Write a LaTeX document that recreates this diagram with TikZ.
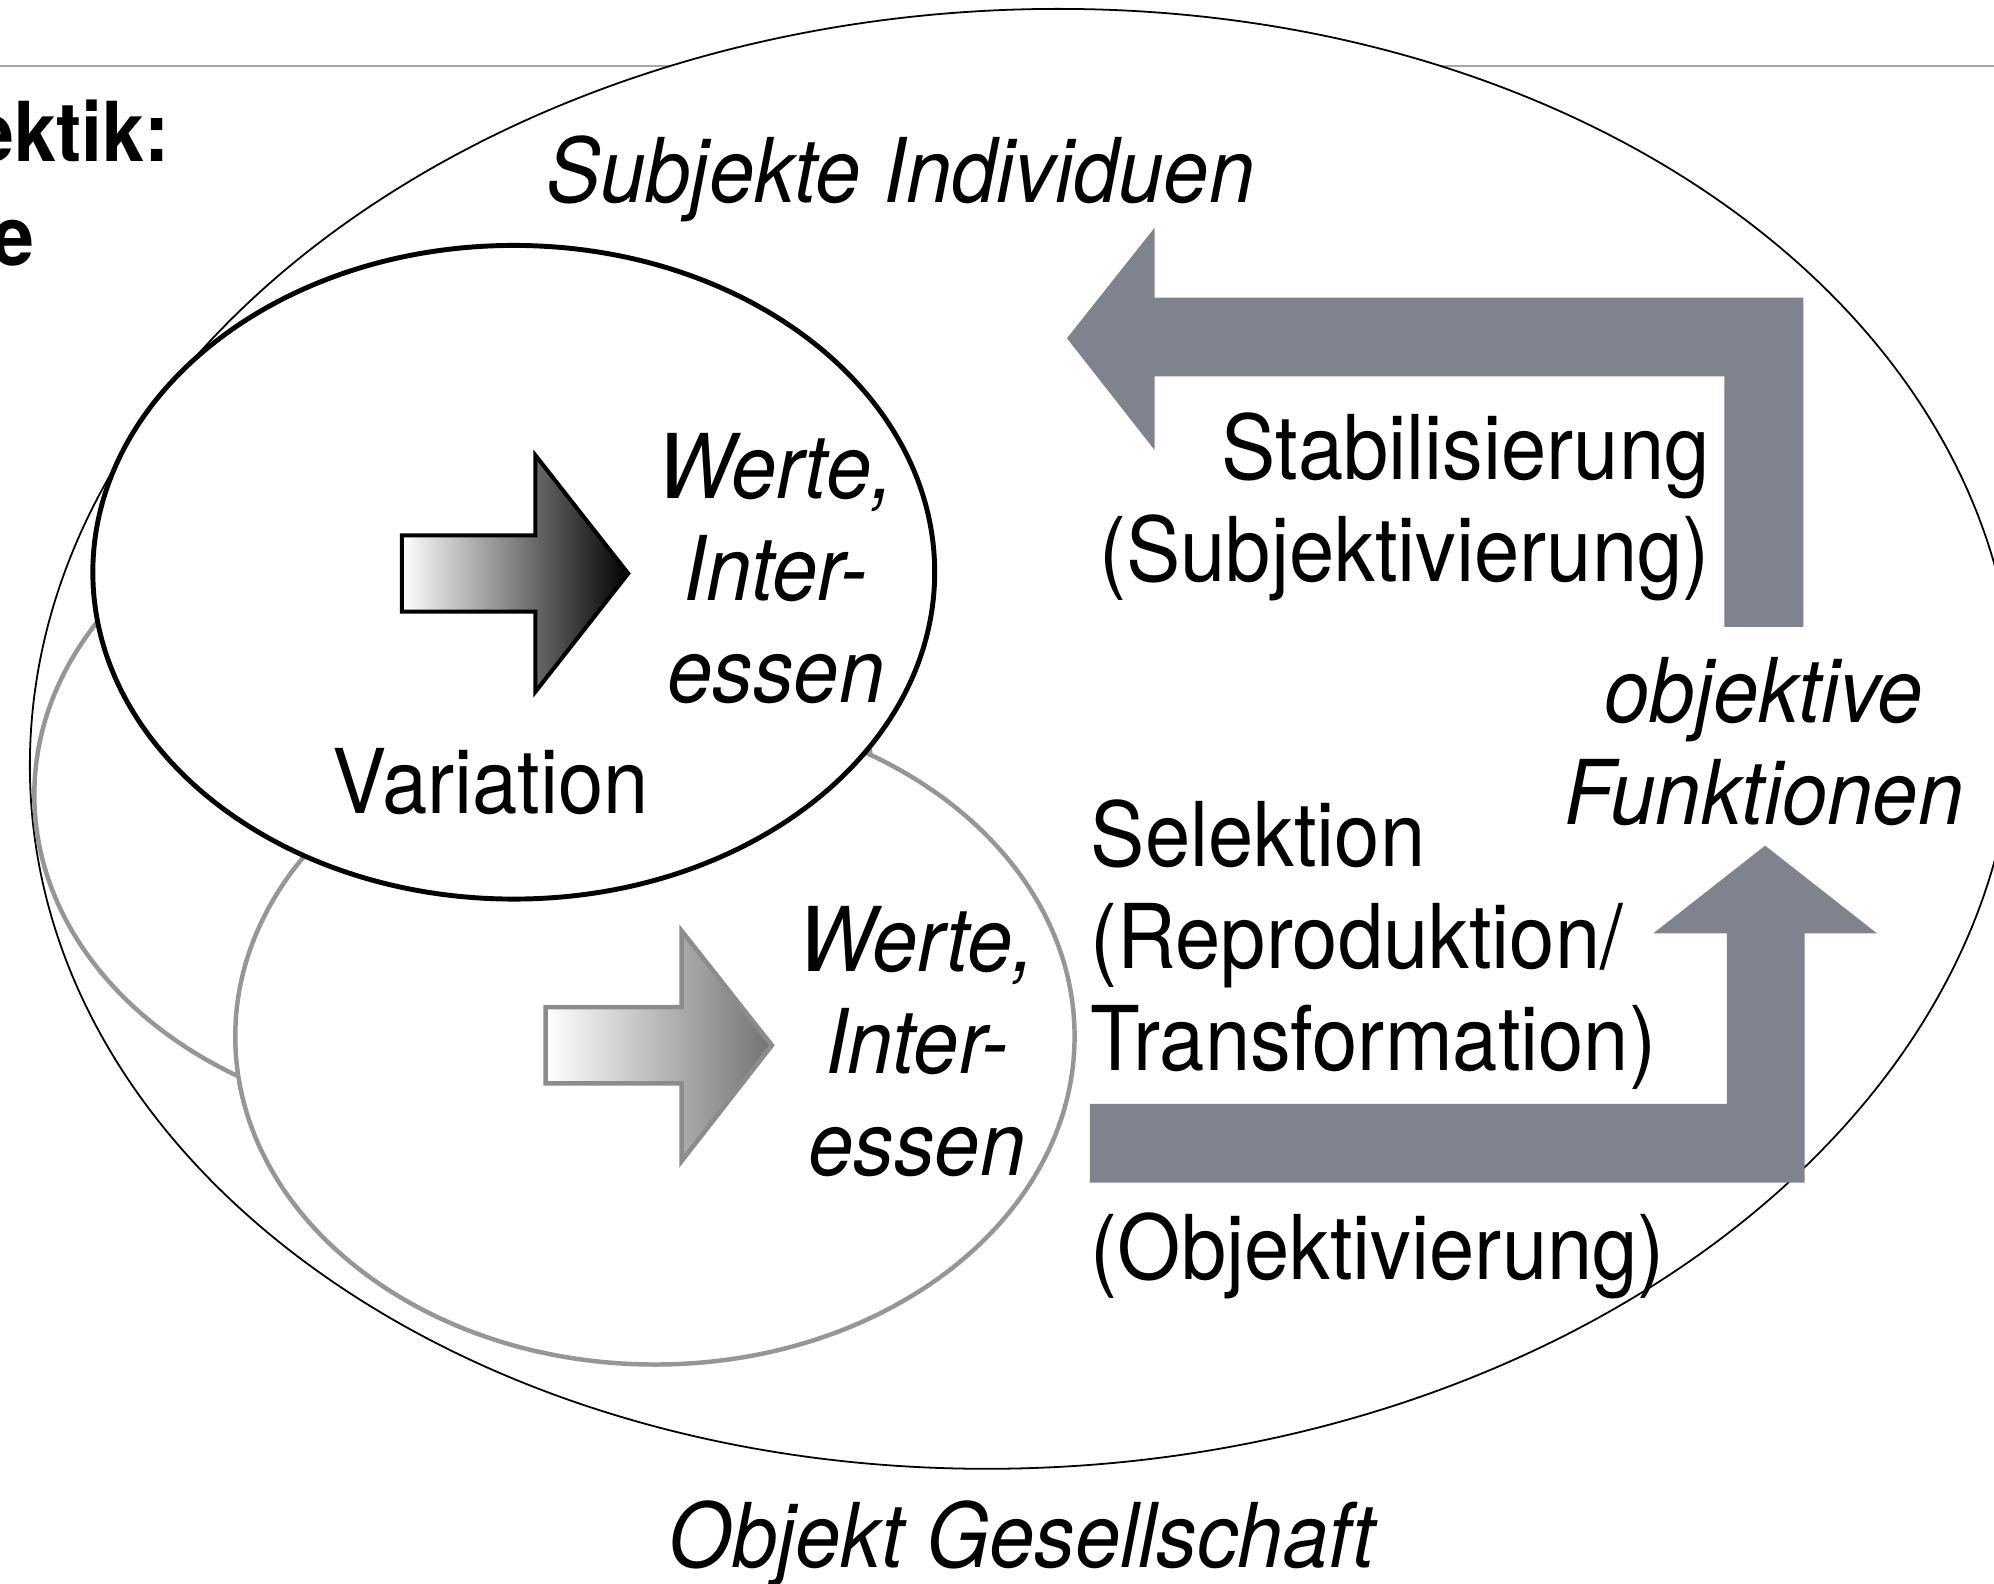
\documentclass[tikz,border=0pt]{standalone}
\usepackage{fontspec}
\setmainfont[FakeStretch=0.91]{TeX Gyre Heros}
\definecolor{slate}{RGB}{126,131,142}
\definecolor{ringgray}{RGB}{150,150,150}
\definecolor{rulegray}{RGB}{166,166,166}

\begin{document}
\begin{tikzpicture}[txt/.style={font=\fontsize{20}{22.8}\selectfont, inner sep=0pt},
                    ital/.style={font=\fontsize{20}{22.8}\selectfont\itshape, inner sep=0pt},
                    head/.style={font=\fontsize{18.5}{22.8}\selectfont\bfseries, inner sep=0pt},
                    ring/.style={draw=ringgray, line width=1pt, fill=white}]
  \useasboundingbox (0,0) rectangle (15.68,-12.45);

  % rule of the slide
  \draw[rulegray, line width=0.6pt] (0,-0.52) -- (15.68,-0.52);
  \node[head, anchor=base east] (headA) at (1.34,-1.27) {ektik:};
  \node[head, anchor=base east] (headB) at (0.275,-2.09) {e};

  % Objekt Gesellschaft
  \draw[line width=0.4pt, fill=white, shift={(8.04,-5.81)}, xslant=0.049]
    (0,0) ellipse [x radius=7.80, y radius=5.74];

  % Werte, Interessen
  \draw[ring] (3.57,-6.25) ellipse [x radius=3.30, y radius=2.58];
  \draw[ring] (5.15,-8.15) ellipse [x radius=3.30, y radius=2.58];
  \draw[line width=1.1pt, fill=white] (4.04,-4.50) ellipse [x radius=3.31, y radius=2.57];

  \draw[line width=0.9pt, left color=white, right color=black]
    (3.16,-4.21) -- (4.21,-4.21) -- (4.21,-3.58) -- (4.94,-4.51)
    -- (4.21,-5.44) -- (4.21,-4.81) -- (3.16,-4.81) -- cycle;
  \draw[line width=1pt, draw=black!45, left color=white, right color=black!55]
    (4.29,-7.92) -- (5.36,-7.92) -- (5.36,-7.32) -- (6.07,-8.22)
    -- (5.36,-9.13) -- (5.36,-8.52) -- (4.29,-8.52) -- cycle;

  % Stabilisierung / Selektion
  \fill[slate] (8.39,-2.66) -- (9.08,-1.79) -- (9.08,-2.34) -- (14.18,-2.34)
    -- (14.18,-4.93) -- (13.56,-4.93) -- (13.56,-2.96) -- (9.08,-2.96)
    -- (9.08,-3.54) -- cycle;
  \fill[slate] (8.57,-8.68) -- (13.58,-8.68) -- (13.58,-7.34) -- (13.00,-7.34)
    -- (13.88,-6.65) -- (14.76,-7.34) -- (14.19,-7.34) -- (14.19,-9.30)
    -- (8.57,-9.30) -- cycle;

  \node[ital, anchor=base] (subj) at (7.08,-1.595) {Subjekte Individuen};
  \node[ital, align=center, anchor=north] (werteA) at (6.10,-3.40) {Werte,\\Inter-\\essen};
  \node[txt, anchor=base] (var) at (3.86,-6.40) {Variation};
  \node[ital, align=center, anchor=north] (werteB) at (7.21,-7.12) {Werte,\\Inter-\\essen};
  \node[txt, align=right, anchor=north east] (stab) at (13.45,-3.24) {Stabilisierung\\(Subjektivierung)};
  \node[ital, align=center, anchor=north] (funk) at (13.87,-5.16) {objektive\\Funktionen};
  \node[txt, align=left, anchor=north west] (sel) at (8.57,-6.28) {Selektion\\(Reproduktion/\\Transformation)};
  \node[txt, anchor=base west] (objv) at (8.57,-10.06) {(Objektivierung)};
  \node[ital, anchor=base] (ges) at (8.035,-12.33) {Objekt Gesellschaft};
\end{tikzpicture}
\end{document}
